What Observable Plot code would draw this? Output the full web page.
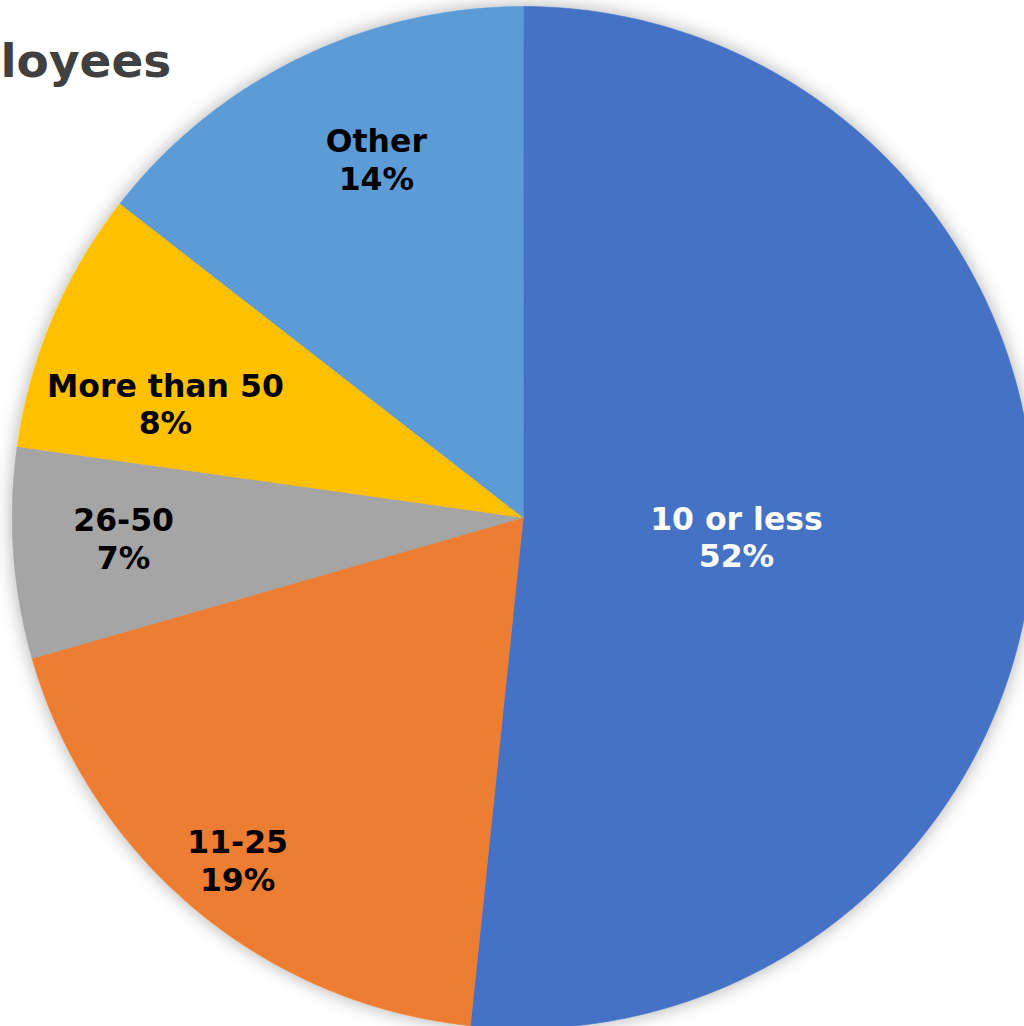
<!DOCTYPE html>
<html><head><meta charset="utf-8">
<script src="https://cdn.jsdelivr.net/npm/d3@7"></script>
<script src="https://cdn.jsdelivr.net/npm/@observablehq/plot@0.6"></script>
<style>body{margin:0;background:#fff;overflow:hidden}</style>
</head><body><div id="chart"></div>
<script>
// ---- data ----
const categories = ["10 or less", "11-25", "26-50", "More than 50", "Other"];
const shares = [51.65, 18.9, 6.67, 8.31, 14.47];
const titleText = "loyees";

// ---- styles / layout ----
const colors = ["#4472C4", "#ED7D31", "#A5A5A5", "#FFC000", "#5B9BD5"];
const whiteLabels = ["10 or less"];
const labelRadius = [0.419, 0.872, 0.783, 0.735, 0.759];
const labelAngleNudge = [2.1, -0.1, 1.1, -5.25, 3.8];
const cx = 522.7, cy = 517, R = 511;

const total = d3.sum(shares);
const arcs = d3.pie().sort(null).value((d, i) => shares[i])(categories);
const pts = [];
arcs.forEach((a, i) => {
  const n = Math.max(2, Math.ceil((a.endAngle - a.startAngle) / (Math.PI / 360)));
  pts.push({cat: categories[i], x: 0, y: 0});
  for (let k = 0; k <= n; k++) {
    const t = a.startAngle + (a.endAngle - a.startAngle) * k / n;
    pts.push({cat: categories[i], x: Math.sin(t), y: Math.cos(t)});
  }
});
const labels = arcs.map((a, i) => {
  const m = (a.startAngle + a.endAngle) / 2 + labelAngleNudge[i] * Math.PI / 180;
  return {cat: categories[i], text: `${categories[i]}\n${Math.round(shares[i] / total * 100)}%`,
          x: labelRadius[i] * Math.sin(m), y: labelRadius[i] * Math.cos(m)};
});

const textOpts = {x: "x", y: "y", text: "text", fontSize: 31.5, fontWeight: "bold", lineHeight: 1.2};
const plot = Plot.plot({
  width: 1024, height: 1026, margin: 0,
  x: {domain: [-1, 1], range: [cx - R, cx + R], axis: null},
  y: {domain: [-1, 1], range: [cy + R, cy - R], axis: null},
  color: {domain: categories, range: colors},
  style: {background: "#fff", fontFamily: "'DejaVu Sans', Verdana, sans-serif"},
  marks: [
    Plot.line(pts, {x: "x", y: "y", z: "cat", fill: "cat", stroke: "cat", strokeWidth: 0.6, curve: "linear-closed"}),
    Plot.text(labels.filter(d => whiteLabels.includes(d.cat)), {...textOpts, fill: "white"}),
    Plot.text(labels.filter(d => !whiteLabels.includes(d.cat)), {...textOpts, fill: "black"}),
    Plot.text([titleText], {text: d => d, frameAnchor: "top-left", textAnchor: "start", lineAnchor: "bottom",
      dx: 0, dy: 76, fontSize: 47, fontWeight: "bold", fill: "#404040"})
  ]
});
const ns = "http://www.w3.org/2000/svg";
const defs = document.createElementNS(ns, "defs");
defs.innerHTML = '<filter id="sh" x="-10%" y="-10%" width="120%" height="120%"><feDropShadow dx="0" dy="0" stdDeviation="9" flood-color="#000" flood-opacity="0.32"/></filter>';
plot.insertBefore(defs, plot.firstChild);
const lg = plot.querySelector('g[aria-label="line"]');
if (lg) lg.setAttribute("filter", "url(#sh)");
document.getElementById("chart").appendChild(plot);
</script>
</body></html>
